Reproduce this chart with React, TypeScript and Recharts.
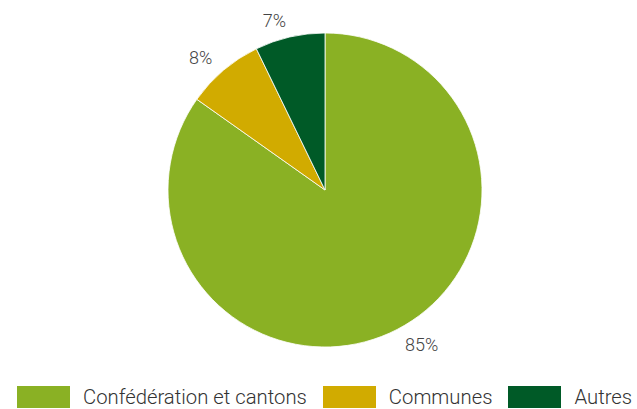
import { PieChart, Pie, Cell, Legend } from 'recharts';

const categories = ['Confédération et cantons', 'Communes', 'Autres'];
const shares = [84.8, 8.0, 7.2];
const shareLabels = ['85%', '8%', '7%'];
const colors = ['#8ab124', '#d1ab00', '#005a27'];

const chartData = categories.map((name, i) => ({
  name,
  value: shares[i],
  label: shareLabels[i],
  fill: colors[i],
}));

const RADIAN = Math.PI / 180;

function renderLabel(props: any) {
  const { cx, cy, midAngle, outerRadius, index } = props;
  const r = outerRadius + 17;
  const x = cx + r * Math.cos(-midAngle * RADIAN);
  const y = cy + r * Math.sin(-midAngle * RADIAN);
  return (
    <text
      x={x}
      y={y}
      fill="#444"
      fontSize={18}
      fontWeight={300}
      fontFamily="Roboto"
      textAnchor={x > cx ? 'start' : 'end'}
      dominantBaseline="central"
    >
      {chartData[index].label}
    </text>
  );
}

function LegendContent() {
  return (
    <div style={{ display: 'flex', alignItems: 'center', paddingLeft: 17, fontFamily: 'Roboto' }}>
      {chartData.map((entry, i) => (
        <div
          key={entry.name}
          style={{ display: 'flex', alignItems: 'center', marginRight: i < chartData.length - 1 ? 16 : 0 }}
        >
          <div style={{ width: 53, height: 22, background: entry.fill, marginRight: 13 }} />
          <span style={{ fontSize: 20.3, fontWeight: 300, color: '#333', whiteSpace: 'nowrap', lineHeight: '22px' }}>
            {entry.name}
          </span>
        </div>
      ))}
    </div>
  );
}

export default function App() {
  return (
    <div style={{ position: 'absolute', left: 0, top: 0, width: 637, height: 409, background: '#fff' }}>
      <PieChart width={637} height={409} margin={{ top: 0, right: 0, bottom: 0, left: 0 }}>
        <Pie
          data={chartData}
          dataKey="value"
          cx={325}
          cy={190}
          outerRadius={157}
          startAngle={90}
          endAngle={-270}
          stroke="#fff"
          strokeWidth={0.8}
          label={renderLabel}
          labelLine={false}
          isAnimationActive={false}
        >
          {chartData.map((entry) => (
            <Cell key={entry.name} fill={entry.fill} />
          ))}
        </Pie>
        <Legend
          content={<LegendContent />}
          wrapperStyle={{ position: 'absolute', left: 0, top: 386, width: 637 }}
        />
      </PieChart>
    </div>
  );
}
